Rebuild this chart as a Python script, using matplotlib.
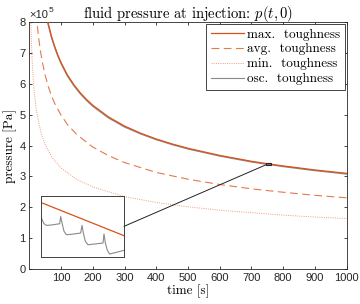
import matplotlib
matplotlib.use("Agg")
import matplotlib.pyplot as plt
from matplotlib.patches import Rectangle, ConnectionPatch
from matplotlib.lines import Line2D

plt.rcParams['mathtext.fontset'] = 'cm'
plt.rcParams['font.family'] = 'Liberation Sans'

# --- data (time in s, pressure in Pa) ---
t_max = [55, 60, 70, 80, 90, 100, 120, 140, 160, 180, 200, 250, 300, 350, 400,
         450, 500, 600, 700, 746, 762, 800, 900, 1000]
p_max = [8.15e5, 7.92e5, 7.52e5, 7.20e5, 6.92e5, 6.68e5, 6.28e5, 5.97e5, 5.71e5,
         5.49e5, 5.30e5, 4.92e5, 4.63e5, 4.40e5, 4.21e5, 4.05e5, 3.91e5, 3.68e5,
         3.49e5, 3.418e5, 3.394e5, 3.34e5, 3.21e5, 3.10e5]

t_avg = [22, 25, 30, 35, 40, 50, 60, 70, 80, 100, 120, 150, 200, 250, 300, 400,
         500, 600, 700, 800, 900, 1000]
p_avg = [8.25e5, 7.90e5, 7.43e5, 7.06e5, 6.75e5, 6.27e5, 5.90e5, 5.60e5, 5.36e5,
         4.98e5, 4.68e5, 4.35e5, 3.95e5, 3.67e5, 3.45e5, 3.13e5, 2.91e5, 2.74e5,
         2.60e5, 2.49e5, 2.39e5, 2.31e5]

t_min = [5, 6, 8, 10, 15, 20, 30, 40, 50, 70, 100, 150, 200, 300, 400, 500, 600,
         700, 800, 900, 1000]
p_min = [8.04e5, 7.61e5, 6.98e5, 6.53e5, 5.78e5, 5.30e5, 4.70e5, 4.31e5, 4.03e5,
         3.64e5, 3.27e5, 2.90e5, 2.66e5, 2.35e5, 2.16e5, 2.02e5, 1.91e5, 1.83e5,
         1.75e5, 1.69e5, 1.64e5]

t_osc = t_max
p_osc = [8.11e5, 7.89e5, 7.49e5, 7.17e5, 6.89e5, 6.65e5, 6.25e5, 5.94e5, 5.68e5,
         5.46e5, 5.27e5, 4.89e5, 4.60e5, 4.38e5, 4.19e5, 4.03e5, 3.89e5, 3.66e5,
         3.47e5, 3.40e5, 3.38e5, 3.32e5, 3.19e5, 3.08e5]

# zoomed window (inset)
zoom_t = [746.0, 762.0]
zoom_p = [337830, 342290]
inset_t_max = [746.0, 762.0]
inset_p_max = [341804, 339382]
inset_t_osc = [746.0, 746.26, 746.64, 747.09, 748.05, 749.65, 749.84, 750.10,
               750.48, 750.93, 751.89, 753.68, 753.94, 754.19, 754.58, 755.09,
               756.37, 757.97, 758.16, 758.42, 758.80, 759.25, 760.53, 762.0]
inset_p_osc = [340907, 340551, 340252, 340131, 340158, 340252, 340787, 340301,
               339703, 339453, 339480, 339574, 340131, 339574, 338967, 338722,
               338776, 338847, 339503, 338847, 338316, 338048, 338169, 338316]

labels = ['max.  toughness', 'avg.  toughness', 'min.  toughness', 'osc.  toughness']
c_max, c_avg, c_min, c_osc = '#D95319', '#E37A4C', '#EE9E7A', '#8a8a8a'
serif = 'cmr10'

fig = plt.figure(figsize=(3.6, 3.04), dpi=100)
ax = fig.add_axes([0.0814, 0.1141, 0.8817, 0.8145])

ax.plot(t_osc, p_osc, color=c_osc, lw=1.0, zorder=2)
ax.plot(t_max, p_max, color=c_max, lw=0.9, zorder=3)
ax.plot(t_avg, p_avg, color=c_avg, lw=0.8, ls=(0, (7, 4)), zorder=3)
ax.plot(t_min, p_min, color=c_min, lw=0.7, ls=(0, (1, 1.3)), zorder=3)

ax.set_xlim(0, 1000)
ax.set_ylim(0, 8e5)
ax.set_xticks(range(100, 1001, 100))
ax.set_yticks([i * 1e5 for i in range(9)])
ax.set_yticklabels([str(i) for i in range(9)])
ax.tick_params(direction='in', length=2.5, width=0.6, labelsize=8,
               colors='#262626', top=True, right=True, pad=2.5)
for s in ax.spines.values():
    s.set_linewidth(0.6)
    s.set_color('#262626')

ax.text(0.0, 1.008, '×10', transform=ax.transAxes, fontsize=8,
        color='#262626', ha='left', va='bottom')
ax.text(0.062, 1.03, '5', transform=ax.transAxes, fontsize=6,
        color='#262626', ha='left', va='bottom')

ax.set_title('fluid pressure at injection: $p(t,0)$', fontfamily=serif,
             fontsize=10.5, pad=3)
ax.set_xlabel('time [s]', fontfamily=serif, fontsize=9.5, labelpad=1)
ax.set_ylabel('pressure [Pa]', fontfamily=serif, fontsize=9.5, labelpad=2)

# legend
handles = [Line2D([], [], color=c_max, lw=0.9),
           Line2D([], [], color=c_avg, lw=0.8, ls=(0, (7, 4))),
           Line2D([], [], color=c_min, lw=0.7, ls=(0, (1, 1.3))),
           Line2D([], [], color=c_osc, lw=0.8)]
leg = ax.legend(handles, labels, loc='upper right',
                prop={'family': serif, 'size': 9.5}, fancybox=False,
                framealpha=1, edgecolor='#262626', handlelength=2.5,
                handletextpad=0.25, borderpad=0.35, labelspacing=0.2,
                borderaxespad=0.15)
leg.get_frame().set_linewidth(0.6)

# zoom rectangle
ax.add_patch(Rectangle((zoom_t[0], zoom_p[0]), zoom_t[1] - zoom_t[0],
                       zoom_p[1] - zoom_p[0], fill=False, edgecolor='#222222',
                       lw=0.8, zorder=5))

# inset
ins = fig.add_axes([0.113, 0.1546, 0.2314, 0.2016])
ins.plot(inset_t_osc, inset_p_osc, color=c_osc, lw=0.8)
ins.plot(inset_t_max, inset_p_max, color=c_max, lw=0.9)
ins.set_xlim(zoom_t)
ins.set_ylim(zoom_p)
ins.set_xticks([])
ins.set_yticks([])
for s in ins.spines.values():
    s.set_linewidth(0.7)
    s.set_color('#404040')

con = ConnectionPatch(xyA=(1, 0.5), coordsA=ins.transAxes,
                      xyB=(zoom_t[0], zoom_p[0]), coordsB=ax.transData,
                      color='#222222', lw=0.7)
fig.add_artist(con)

fig.savefig('out.png', dpi=100)
